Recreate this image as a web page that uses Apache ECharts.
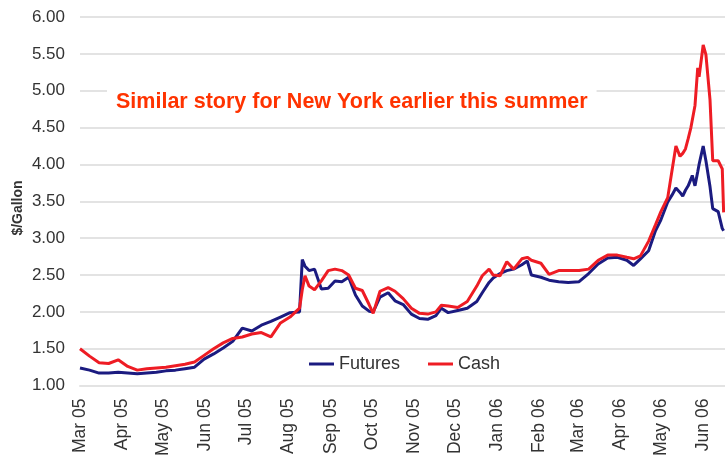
<!DOCTYPE html>
<html>
<head>
<meta charset="utf-8">
<script src="https://cdn.jsdelivr.net/npm/echarts@6/dist/echarts.min.js"></script>
<style>
html,body{margin:0;padding:0;background:#fff;}
#chart{width:725px;height:459px;}
</style>
</head>
<body>
<div id="chart"></div>
<script>
const dates = [
  '2005-03-01','2005-03-08','2005-03-15','2005-03-22','2005-03-29','2005-04-05','2005-04-12','2005-04-19','2005-04-26',
  '2005-05-03','2005-05-10','2005-05-17','2005-05-24','2005-05-31','2005-06-07','2005-06-14','2005-06-21','2005-06-28',
  '2005-07-05','2005-07-12','2005-07-19','2005-07-26','2005-08-02','2005-08-09','2005-08-11','2005-08-13','2005-08-16',
  '2005-08-20','2005-08-25','2005-08-30','2005-09-04','2005-09-09','2005-09-14','2005-09-19','2005-09-24','2005-09-29',
  '2005-10-02','2005-10-07','2005-10-13','2005-10-18','2005-10-24','2005-10-30','2005-11-05','2005-11-11','2005-11-17',
  '2005-11-21','2005-11-26','2005-12-03','2005-12-10','2005-12-17','2005-12-21','2005-12-26','2005-12-29','2006-01-03',
  '2006-01-08','2006-01-13','2006-01-19','2006-01-23','2006-01-26','2006-02-02','2006-02-08','2006-02-15','2006-02-22',
  '2006-03-02','2006-03-09','2006-03-16','2006-03-23','2006-03-30','2006-04-06','2006-04-11','2006-04-16','2006-04-22',
  '2006-04-27','2006-05-01','2006-05-06','2006-05-09','2006-05-12','2006-05-15','2006-05-17','2006-05-19','2006-05-21',
  '2006-05-23','2006-05-24','2006-05-26','2006-05-28','2006-05-29','2006-06-01','2006-06-03','2006-06-06','2006-06-08',
  '2006-06-12','2006-06-15','2006-06-16'
];
const futures = [
  1.24,1.21,1.17,1.17,1.18,1.17,1.16,1.17,1.18,
  1.20,1.21,1.23,1.25,1.36,1.43,1.51,1.60,1.78,
  1.74,1.82,1.87,1.93,1.99,2.00,2.71,2.62,2.56,
  2.58,2.31,2.32,2.42,2.41,2.47,2.23,2.08,2.01,
  2.00,2.20,2.26,2.15,2.10,1.97,1.91,1.90,1.95,
  2.05,1.99,2.02,2.05,2.14,2.26,2.40,2.46,2.52,
  2.56,2.58,2.64,2.69,2.50,2.47,2.43,2.41,2.40,
  2.41,2.52,2.65,2.73,2.74,2.70,2.63,2.72,2.83,
  3.10,3.25,3.49,3.58,3.68,3.62,3.57,3.65,3.71,
  3.80,3.85,3.71,3.90,4.00,4.25,4.05,3.70,3.40,
  3.36,3.13,3.10
];
const cash = [
  1.50,1.40,1.31,1.30,1.35,1.26,1.21,1.23,1.24,
  1.25,1.27,1.29,1.32,1.41,1.50,1.58,1.64,1.66,
  1.70,1.72,1.66,1.85,1.93,2.05,2.30,2.49,2.35,
  2.30,2.42,2.56,2.58,2.56,2.50,2.32,2.29,2.10,
  1.98,2.28,2.33,2.28,2.18,2.05,1.98,1.97,2.00,
  2.09,2.08,2.06,2.14,2.35,2.49,2.58,2.50,2.49,
  2.68,2.58,2.72,2.74,2.70,2.66,2.51,2.56,2.56,
  2.56,2.58,2.70,2.77,2.77,2.74,2.72,2.76,2.96,
  3.18,3.36,3.55,3.90,4.25,4.11,4.15,4.21,4.35,
  4.50,4.48,4.80,5.31,5.19,5.62,5.49,4.88,4.05,
  4.05,3.94,3.35
];
const yTicks = ['1.00','1.50','2.00','2.50','3.00','3.50','4.00','4.50','5.00','5.50','6.00'];
const monthNames = ['Jan','Feb','Mar','Apr','May','Jun','Jul','Aug','Sep','Oct','Nov','Dec'];
const seriesNames = ['Futures','Cash'];
const yAxisTitle = '$/Gallon';
const annotation = 'Similar story for New York earlier this summer';

const FONT = "'Liberation Sans', Arial, sans-serif";
const chart = echarts.init(document.getElementById('chart'), null, {renderer:'canvas'});
chart.setOption({
  animation: false,
  backgroundColor: '#fff',
  title: {
    text: annotation,
    left: 107, top: 88,
    padding: [3, 9, 3, 9],
    backgroundColor: '#fff',
    textStyle: {color: '#ff3300', fontFamily: FONT, fontWeight: 'bold', fontSize: 21.5}
  },
  graphic: [{
    type: 'text',
    x: 18.5, y: 208,
    rotation: Math.PI / 2,
    style: {
      text: yAxisTitle,
      fill: '#333',
      font: "bold 14px 'Liberation Sans', Arial, sans-serif",
      textAlign: 'center',
      textVerticalAlign: 'middle'
    }
  }],
  legend: {
    data: seriesNames,
    left: 304, top: 350,
    icon: 'rect',
    itemWidth: 25, itemHeight: 3, itemGap: 28,
    textStyle: {fontFamily: FONT, fontSize: 18, color: '#333'}
  },
  grid: {left: 80, right: 0, top: 17, bottom: 71, containLabel: false},
  xAxis: {
    type: 'time',
    min: '2005-03-01',
    max: '2006-06-17',
    splitNumber: 16,
    axisLine: {lineStyle: {color: '#e3e3e3', width: 2}},
    axisTick: {show: false},
    splitLine: {show: false},
    axisLabel: {
      rotate: 90,
      margin: 13,
      showMaxLabel: false,
      fontFamily: FONT, fontSize: 17.5, color: '#333',
      formatter: function (v) {
        const d = new Date(v);
        return monthNames[d.getMonth()] + ' ' + String(d.getFullYear()).slice(2);
      }
    }
  },
  yAxis: {
    type: 'value',
    min: 1, max: 6, interval: 0.5,
    axisLine: {show: false},
    axisTick: {show: false},
    splitLine: {lineStyle: {color: '#e3e3e3', width: 2}},
    axisLabel: {
      margin: 15,
      fontFamily: FONT, fontSize: 17, color: '#333',
      formatter: function (v) { return yTicks[Math.round((v - 1) / 0.5)] || v.toFixed(2); }
    }
  },
  series: [
    {
      name: seriesNames[0], type: 'line', symbol: 'none',
      color: '#1b1b80',
      lineStyle: {width: 3, color: '#1b1b80'},
      data: dates.map((d, i) => [d, futures[i]])
    },
    {
      name: seriesNames[1], type: 'line', symbol: 'none',
      color: '#ee1c24',
      lineStyle: {width: 3, color: '#ee1c24'},
      data: dates.map((d, i) => [d, cash[i]])
    }
  ]
});
</script>
</body>
</html>
